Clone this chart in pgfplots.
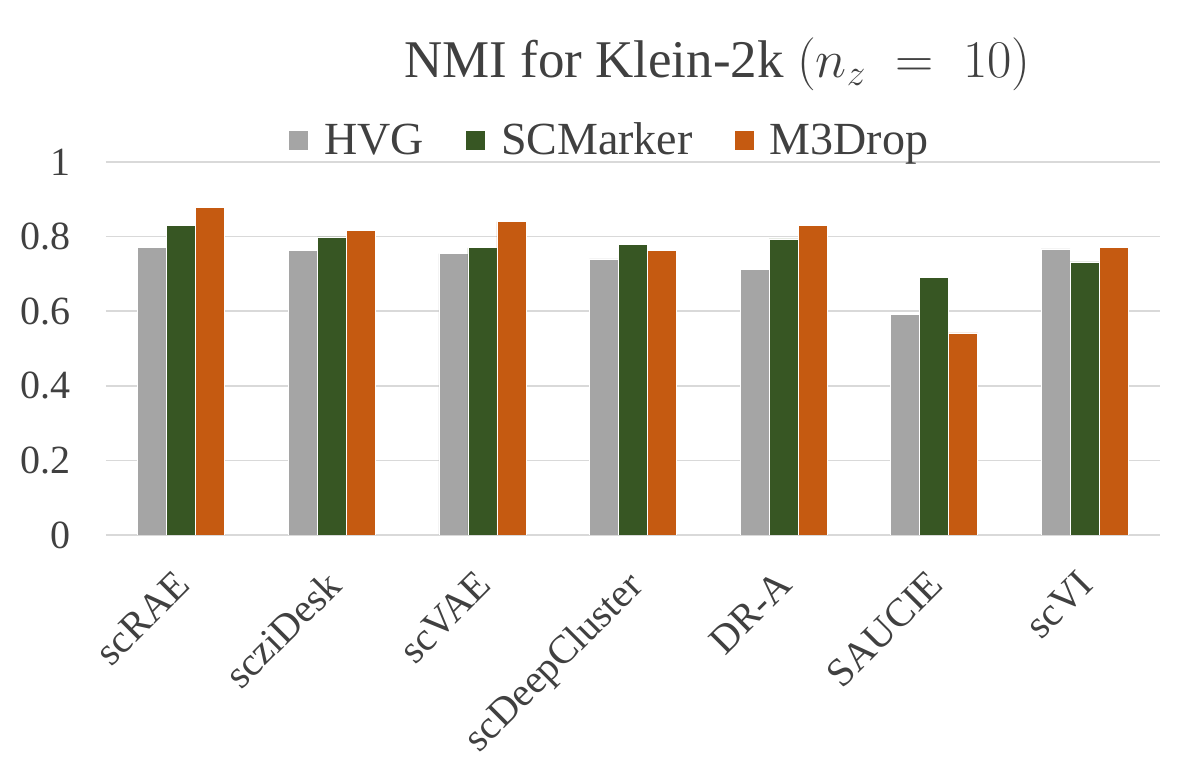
\RequirePackage{fix-cm}
\documentclass[border=0pt]{standalone}
\usepackage{fontspec}
\setmainfont{Liberation Serif}
\usepackage{pgfplots}
\pgfplotsset{compat=1.18}
\definecolor{hvg}{HTML}{A5A5A5}
\definecolor{scm}{HTML}{375623}
\definecolor{m3d}{HTML}{C55A11}
\definecolor{gridc}{HTML}{D9D9D9}
\definecolor{txt}{HTML}{404040}
\pgfplotsset{sq/.style={legend image code/.code={\fill[##1,draw=none] (0pt,-4.75pt) rectangle (9.5pt,4.75pt);}}}
\begin{document}
\begin{tikzpicture}
\path[use as bounding box] (-53pt,-114pt) rectangle (545pt,267.5pt);
\begin{axis}[
  at={(0pt,0pt)}, anchor=south west,
  scale only axis, width=527pt, height=186.5pt,
  ymin=0, ymax=1, xmin=-0.5, xmax=6.5,
  ytick={0,0.2,0.4,0.6,0.8,1},
  xtick={0,1,2,3,4,5,6},
  xticklabels={scRAE,scziDesk,scVAE,scDeepCluster,DR-A,SAUCIE,scVI},
  ymajorgrids, major grid style={gridc, line width=0.75pt},
  axis line style={draw=none}, major tick length=0pt,
  tick label style={font=\fontsize{20}{24}\selectfont, text=txt},
  /pgf/number format/assume math mode=true,
  yticklabel style={anchor=east, inner sep=0pt, xshift=-17.5pt},
  xticklabel style={xshift=-4pt, yshift=-16.5pt, rotate=45, anchor=north east, inner sep=0pt},
  ybar, bar width=14.5pt,
  legend columns=-1,
  legend style={at={(0.477,1.058)}, anchor=center, draw=none, fill=none,
    font=\fontsize{23}{27.6}\selectfont, text=txt, nodes={inner sep=0pt},
    /tikz/every odd column/.append style={column sep=8pt},
    /tikz/every even column/.append style={column sep=21pt}},
]
\addplot[sq, fill=hvg, draw=white, line width=0.3pt, bar shift=-14.5pt] coordinates {(0,0.772) (1,0.762) (2,0.754) (3,0.740) (4,0.711) (5,0.592) (6,0.767)};
\addplot[sq, fill=scm, draw=white, line width=0.3pt, bar shift=0pt] coordinates {(0,0.829) (1,0.799) (2,0.770) (3,0.778) (4,0.794) (5,0.690) (6,0.732)};
\addplot[sq, fill=m3d, draw=white, line width=0.3pt, bar shift=14.5pt] coordinates {(0,0.878) (1,0.817) (2,0.840) (3,0.762) (4,0.829) (5,0.542) (6,0.772)};
\legend{HVG,SCMarker,M3Drop}
\end{axis}
\node[anchor=base, font=\fontsize{26.5}{32}\selectfont, text=txt] at (305.75pt,228.5pt) {NMI for Klein-2k $(n_z \;=\; 10)$};
\end{tikzpicture}
\end{document}
